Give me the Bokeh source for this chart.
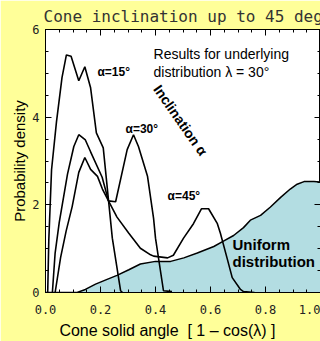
from bokeh.plotting import figure
from bokeh.models import Label, LinearAxis, Range1d, SingleIntervalTicker, PrintfTickFormatter, CustomJSTickFormatter
from bokeh.embed import file_html
from bokeh.resources import INLINE

# ---- data ----
a15_x = [0.008, 0.012, 0.022, 0.040, 0.060, 0.076, 0.093, 0.121, 0.143, 0.164, 0.185, 0.210, 0.243, 0.273, 0.280]
a15_y = [0.0, 1.2, 2.8, 3.9, 4.9, 5.42, 5.39, 4.83, 5.15, 4.67, 3.64, 3.30, 1.24, 0.04, 0.0]

a30_x = [0.025, 0.035, 0.050, 0.080, 0.103, 0.121, 0.145, 0.164, 0.206, 0.229, 0.255, 0.297, 0.320, 0.338, 0.371, 0.393, 0.400, 0.429, 0.460]
a30_y = [0.0, 0.9, 1.6, 2.7, 3.33, 3.60, 3.48, 3.21, 2.63, 2.09, 2.07, 3.26, 3.60, 3.33, 2.65, 1.69, 1.24, 0.04, 0.02]

a45_x = [0.035, 0.055, 0.075, 0.097, 0.121, 0.143, 0.164, 0.189, 0.207, 0.229, 0.260, 0.303, 0.345, 0.382, 0.393, 0.444, 0.465,
         0.502, 0.538, 0.567, 0.593, 0.625, 0.636, 0.660, 0.679, 0.709, 0.720, 0.760]
a45_y = [0.0, 0.8, 1.4, 1.96, 2.74, 3.08, 2.81, 2.65, 2.36, 2.09, 1.72, 1.35, 1.01, 0.86, 0.83, 0.79, 0.85,
         1.24, 1.57, 1.91, 1.91, 1.57, 1.35, 0.79, 0.34, 0.07, 0.02, 0.0]

uni_x = [0.0, 0.115, 0.145, 0.182, 0.224, 0.260, 0.303, 0.345, 0.400, 0.455, 0.503, 0.552, 0.612, 0.647, 0.684, 0.720,
         0.745, 0.782, 0.818, 0.855, 0.890, 0.915, 0.940, 0.976, 1.0]
uni_y = [0.0, 0.0, 0.07, 0.19, 0.30, 0.39, 0.52, 0.65, 0.71, 0.71, 0.79, 0.90, 1.05, 1.17, 1.30, 1.48,
         1.65, 1.76, 1.95, 2.17, 2.36, 2.47, 2.53, 2.53, 2.52]

x_ticks_fmt = "%.1f"
title_text = "Cone inclination up to 45 deg"
x_label = "Cone solid angle\u00a0\u00a0[ 1 \u2013 cos(\u03bb) ]" + "\u00a0" * 7
y_label = "Probability density"

YELLOW = "#FFFF99"
BLUE = "#B3DDE2"
HERSHEY = "DejaVu Sans Mono"
ARIAL = "Liberation Sans"

p = figure(width=320, height=341, output_backend="svg", toolbar_location=None,
           x_range=Range1d(0, 1), y_range=Range1d(0, 6),
           min_border_left=45, min_border_right=0, min_border_top=28, min_border_bottom=46)
p.background_fill_color = "white"
p.border_fill_color = YELLOW
p.outline_line_color = "black"
p.outline_line_width = 1
p.grid.visible = False

p.title.text = title_text
p.title.text_font = HERSHEY
p.title.text_font_size = "16px"
p.title.text_font_style = "normal"
p.title.text_color = "#333333"
p.title.align = "left"
p.title.offset = -2
p.title.standoff = 8

xt = SingleIntervalTicker(interval=0.2, num_minor_ticks=4)
yt = SingleIntervalTicker(interval=2, num_minor_ticks=4)

for ax in p.xaxis:
    ax.ticker = xt
    ax.formatter = PrintfTickFormatter(format=x_ticks_fmt)
    ax.axis_label = x_label
    ax.axis_label_text_font = ARIAL
    ax.axis_label_text_font_size = "16px"
    ax.axis_label_text_font_style = "normal"
    ax.axis_label_text_color = "black"
    ax.axis_label_standoff = 5
    ax.major_label_standoff = 12
for ax in p.yaxis:
    ax.ticker = yt
    ax.axis_label = y_label
    ax.axis_label_text_font = ARIAL
    ax.axis_label_text_font_size = "15px"
    ax.axis_label_text_font_style = "normal"
    ax.axis_label_text_color = "black"
    ax.axis_label_standoff = 1
    ax.major_label_standoff = 6

for ax in list(p.xaxis) + list(p.yaxis):
    ax.major_tick_in = 6
    ax.major_tick_out = 0
    ax.minor_tick_in = 3
    ax.minor_tick_out = 0
    ax.major_label_text_font = HERSHEY
    ax.major_label_text_font_size = "12px"
    ax.major_label_text_color = "#222222"
    ax.axis_line_color = "black"

blank = CustomJSTickFormatter(code="return ''")
top = LinearAxis(ticker=xt, formatter=blank, major_tick_in=6, major_tick_out=0,
                 minor_tick_in=3, minor_tick_out=0, major_label_standoff=0)
right = LinearAxis(ticker=yt, formatter=blank, major_tick_in=6, major_tick_out=0,
                   minor_tick_in=3, minor_tick_out=0, major_label_standoff=0)
p.add_layout(top, "above")
p.add_layout(right, "right")

# uniform distribution
p.varea(x=uni_x, y1=[0] * len(uni_x), y2=uni_y, fill_color=BLUE)
p.line(uni_x, uni_y, line_color="black", line_width=1.5)

for xs, ys in [(a15_x, a15_y), (a30_x, a30_y), (a45_x, a45_y)]:
    p.line(xs, ys, line_color="black", line_width=1.6)

def lab(x, y, text, size, bold=False, font=ARIAL, align="left", angle=0, color="black"):
    p.add_layout(Label(x=x, y=y, text=text, text_font=font, text_font_size=size,
                       text_font_style="bold" if bold else "normal", text_align=align,
                       text_baseline="middle", angle=angle, text_color=color))

lab(0.189, 5.03, "\u03b1=15\u00b0", "12px", bold=True)
lab(0.291, 3.73, "\u03b1=30\u00b0", "12px", bold=True)
lab(0.444, 2.20, "\u03b1=45\u00b0", "12px", bold=True)
lab(0.393, 5.43, "Results for underlying", "14px")
lab(0.393, 5.03, "distribution \u03bb = 30\u00b0", "14px")
lab(0.491, 3.93, "Inclination \u03b1", "14px", bold=True, align="center", angle=-0.96)
lab(0.68, 1.10, "Uniform", "15px", bold=True)
lab(0.68, 0.71, "distribution", "15px", bold=True)

open("out.html", "w").write(file_html(p, INLINE))
